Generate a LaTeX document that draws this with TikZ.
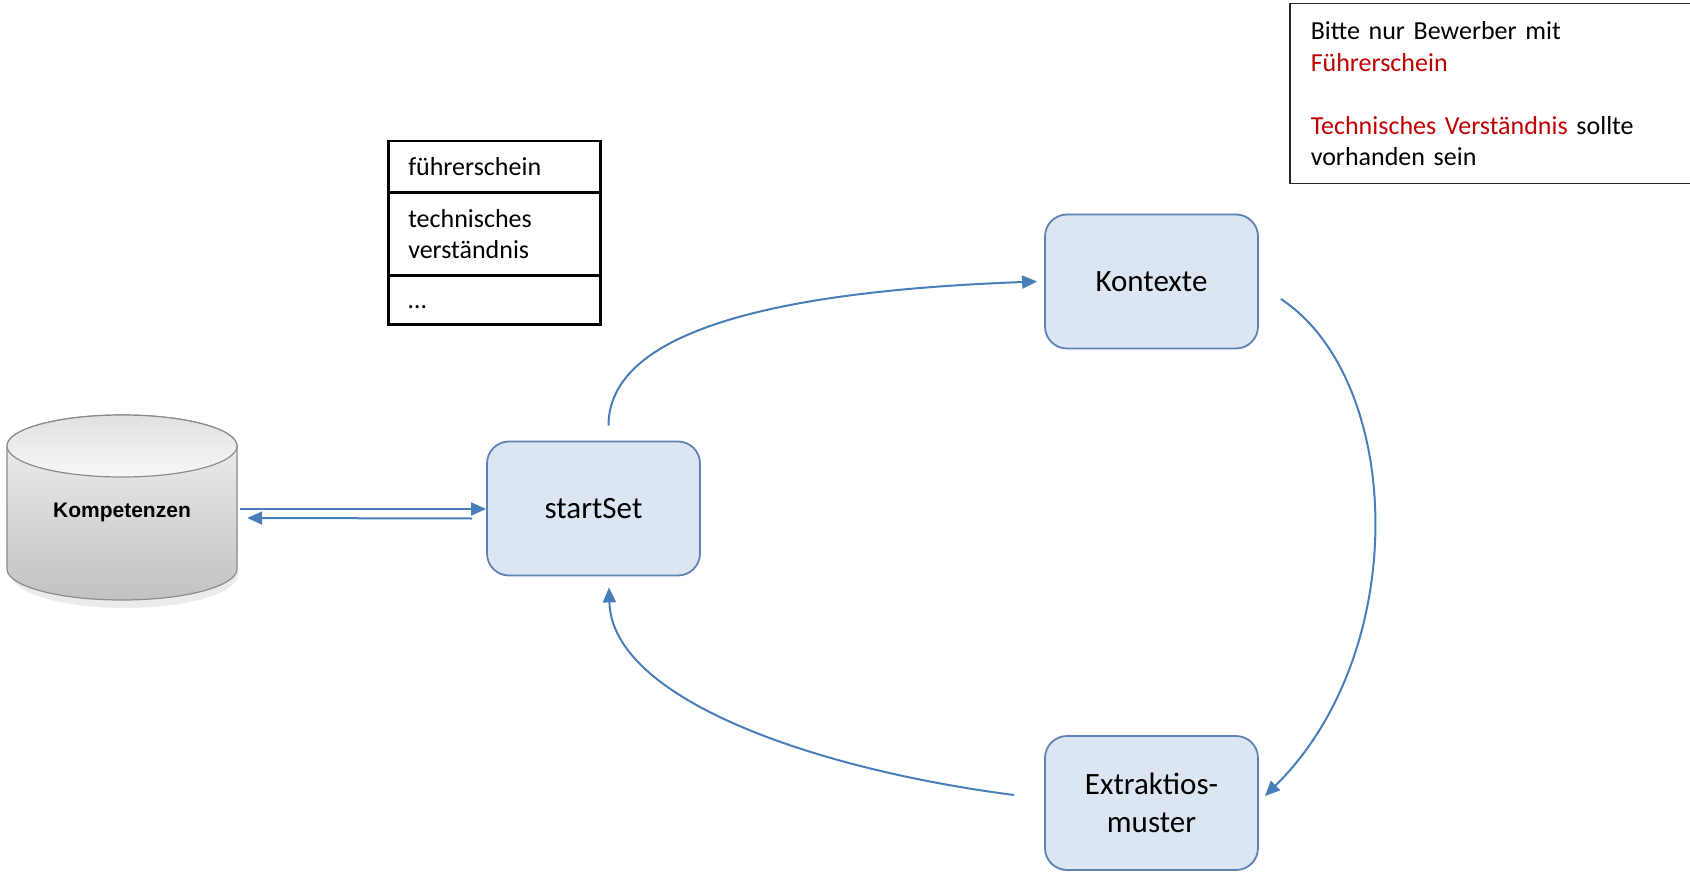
\documentclass[tikz,border=0pt]{standalone}
\usepackage{fontspec}
\setmainfont{Carlito}
\newfontfamily\arialfont{Liberation Sans}
\usetikzlibrary{arrows.meta,calc}
\definecolor{boxfill}{HTML}{DCE6F2}
\definecolor{boxline}{HTML}{5F82B4}
\definecolor{arrowc}{HTML}{4A7EBB}
\definecolor{redtxt}{HTML}{C00000}
\definecolor{cylline}{HTML}{8C8C8C}
\begin{document}
\begin{tikzpicture}[x=1pt,y=-1pt,
  proc/.style={draw=boxline, line width=1.8pt, fill=boxfill, rounded corners=22pt,
    minimum width=213pt, minimum height=134pt, inner sep=0pt, align=center,
    font=\fontsize{31}{38}\selectfont},
  conn/.style={draw=arrowc, line width=2pt, -{Triangle[length=15pt,width=13pt]}},
  cell/.style={draw=black, line width=2.5pt, minimum width=212pt, inner xsep=20pt, inner ysep=0pt,
    text width=172pt, align=left, font=\fontsize{26}{31}\selectfont, anchor=north west},
]
\useasboundingbox (0,0) rectangle (1690,872);

% cylinder (Kompetenzen)
\fill[black!8] (12,452) -- (12,575) arc[start angle=180,end angle=360,x radius=113pt,y radius=33pt] -- (238,452) -- cycle;
\shade[top color=gray!10, bottom color=gray!48, draw=cylline, line width=1.2pt]
  (7,446) -- (7,569) arc[start angle=180,end angle=360,x radius=115pt,y radius=31pt]
  -- (237,446) arc[start angle=0,end angle=180,x radius=115pt,y radius=31pt] -- cycle;
\shade[top color=gray!24, bottom color=gray!6, draw=cylline, line width=1.2pt]
  (122,446) ellipse[x radius=115pt, y radius=31pt];
\node[minimum width=230pt, minimum height=185pt, inner sep=0pt,
  font=\arialfont\bfseries\fontsize{21}{25}\selectfont] (komp) at (122,512) {Kompetenzen};

% process boxes
\node[proc] (start) at (593.5,508.5) {startSet};
\node[proc] (kont) at (1151.5,281.5) {Kontexte};
\node[proc] (ext) at (1151.5,803) {Extraktios-\\muster};

% table
\node[cell, minimum height=51pt] (t1) at (387,140) {führerschein};
\node[cell, minimum height=83pt] (t2) at (387,191) {technisches\\verständnis};
\node[cell, minimum height=49pt] (t3) at (387,274) {\vphantom{führ}…};

% note box
\node[draw=black!85, line width=1.5pt, anchor=north west, minimum width=410pt, minimum height=180pt,
  inner xsep=21pt, text width=368pt, align=left, font=\fontsize{26}{31.5}\selectfont] (note) at (1289,3)
  {Bitte nur Bewerber mit\\\textcolor{redtxt}{Führerschein}\\[31.5pt]\textcolor{redtxt}{Technisches Verständnis} sollte\\vorhanden sein};

% connectors
\draw[conn] ($(komp.east)+(3,-3)$) -- ($(start.west)+(0,0.5)$);
\draw[conn] ($(start.west)+(-14,10)$) -- ($(komp.east)+(10,6)$);
\draw[conn] ($(start.north)+(15,-15)$) .. controls ($(start.north)+(15,-121)$) and ($(kont.west)+(-225,8)$) .. ($(kont.west)+(-7,0)$);
\draw[conn] ($(kont.east)+(22,17.5)$) .. controls ($(kont.east)+(144,98)$) and ($(ext.east)+(154,-153)$) .. ($(ext.east)+(6,-7)$);
\draw[conn] ($(ext.west)+(-30,-8)$) .. controls ($(ext.west)+(-225,-33)$) and ($(start.south)+(18.5,124)$) .. ($(start.south)+(15.5,11)$);
\end{tikzpicture}
\end{document}
